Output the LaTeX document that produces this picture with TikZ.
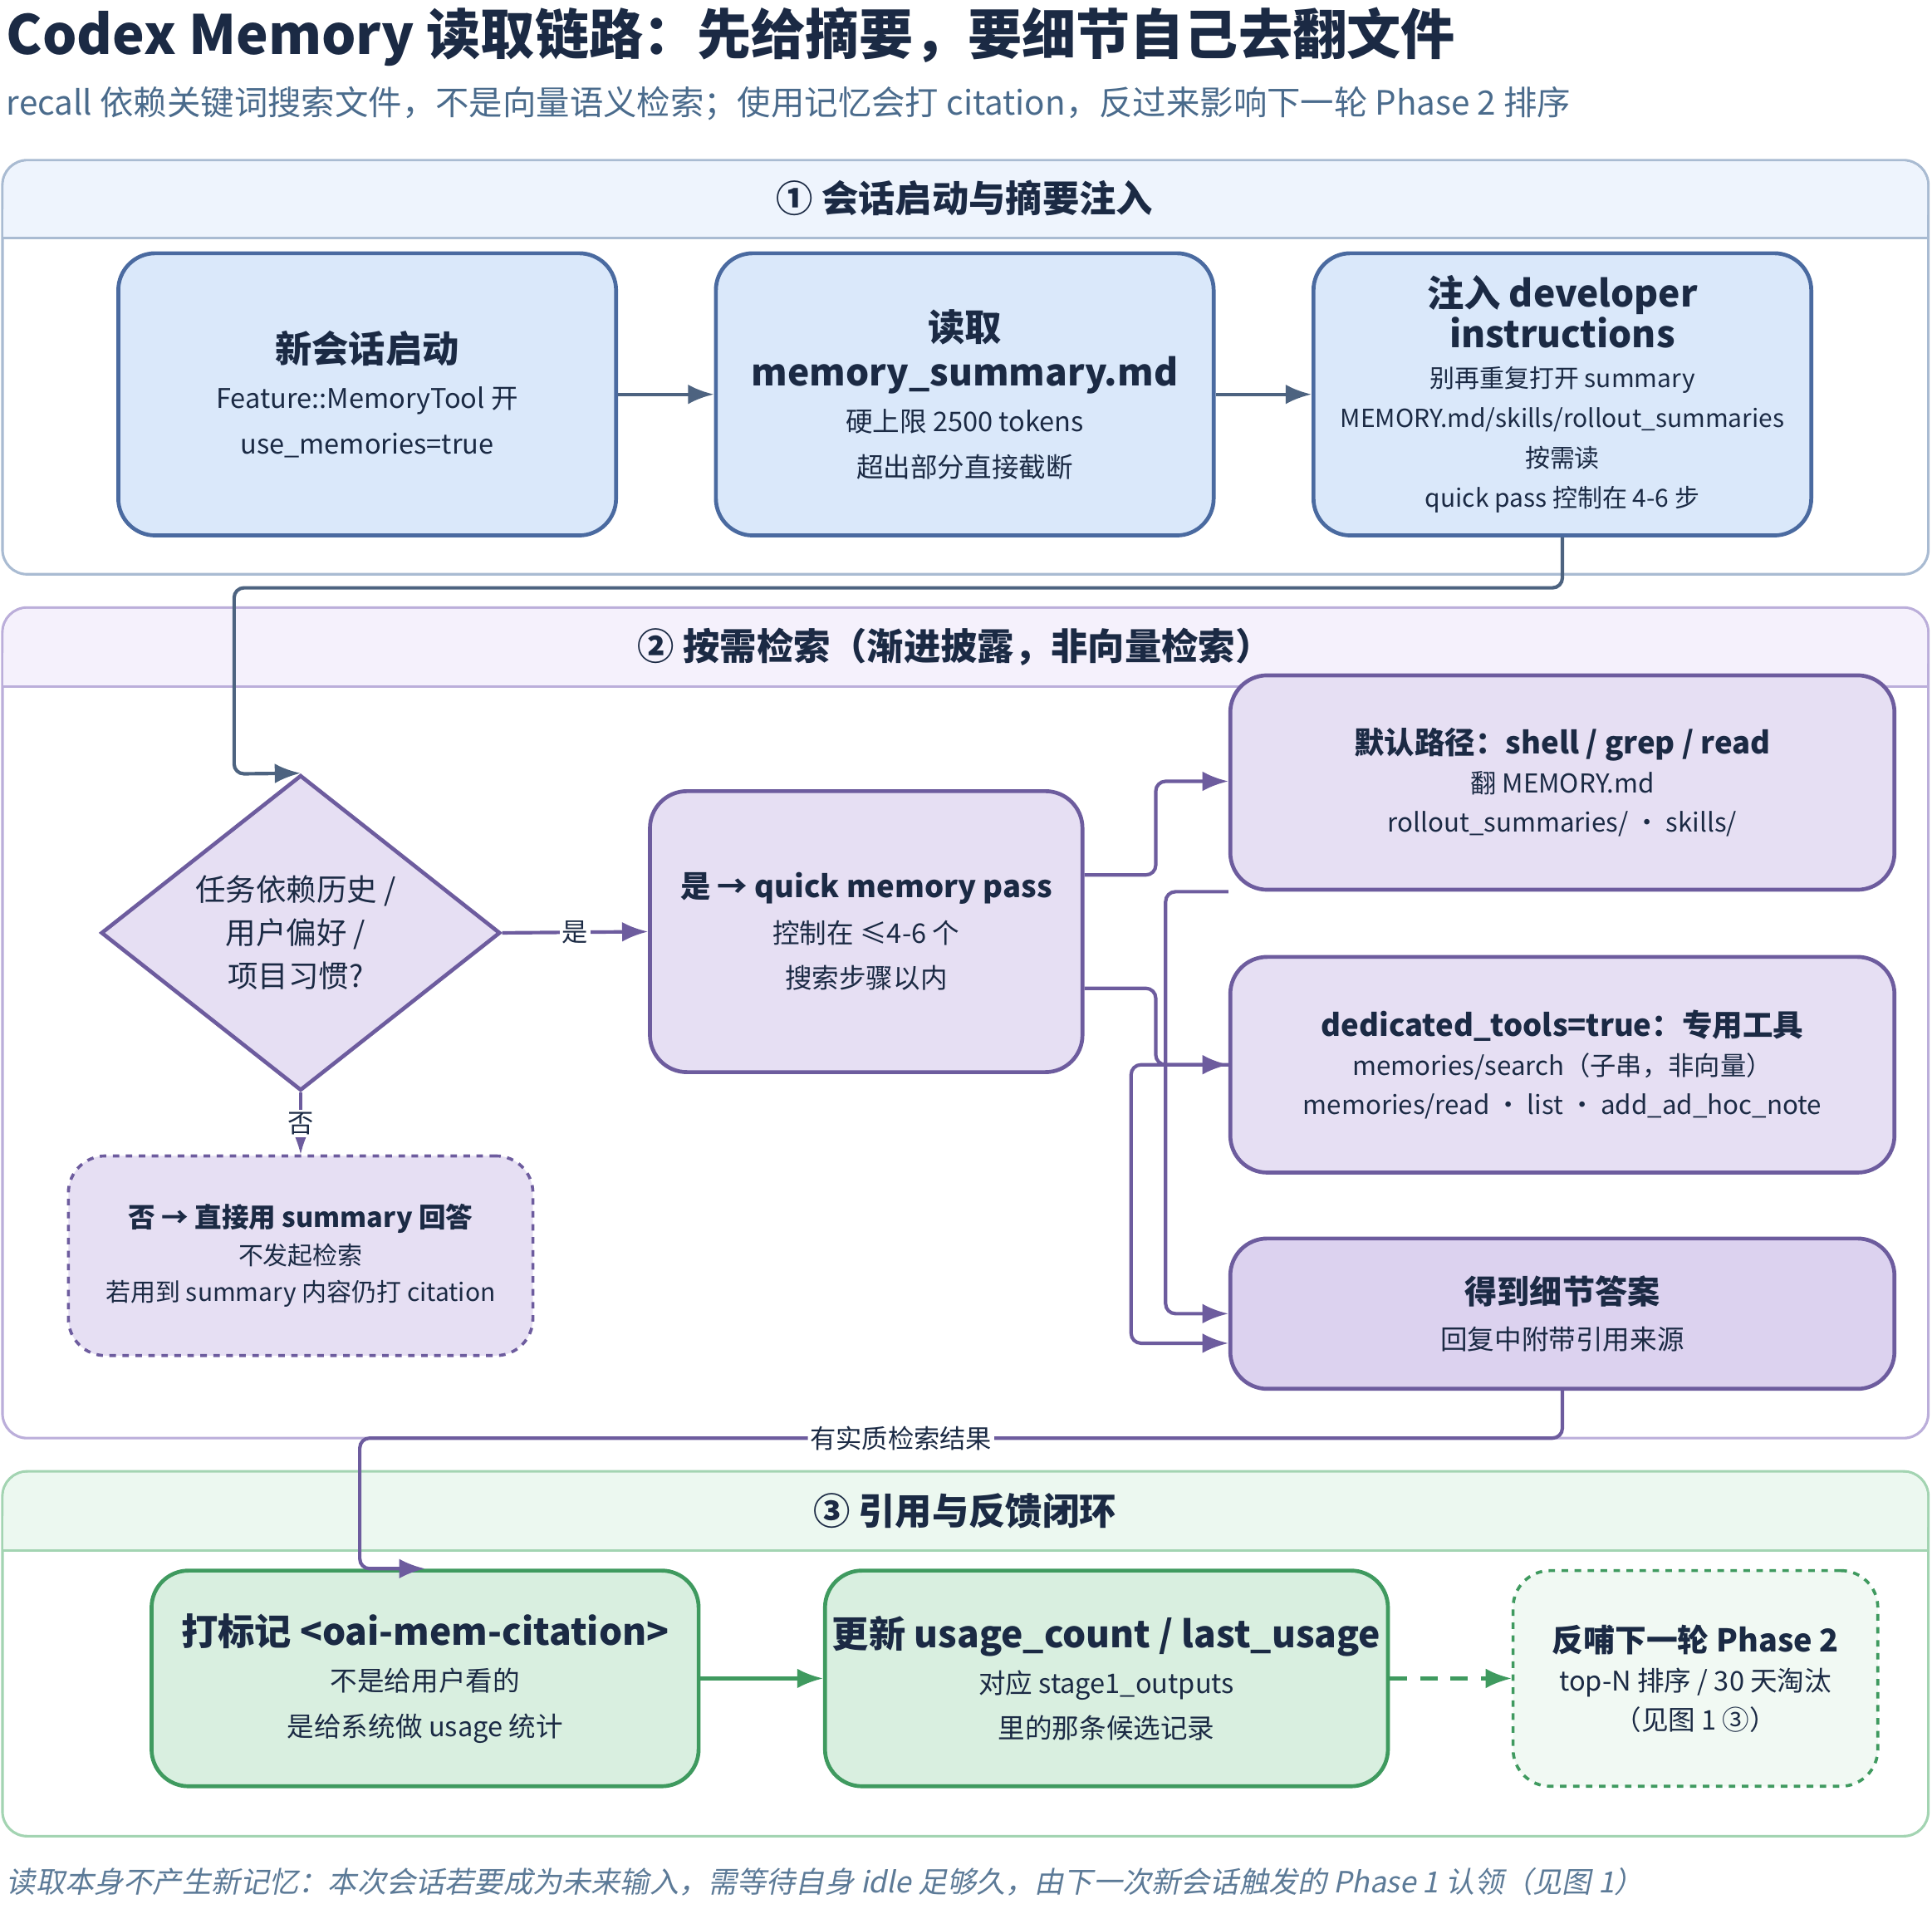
\documentclass[tikz,border=0pt]{standalone}
\usepackage{fontspec}
\setmainfont{Noto Sans CJK SC}[ItalicFont={Noto Sans CJK SC},ItalicFeatures={FakeSlant=0.2}]
\usetikzlibrary{shapes.geometric, arrows.meta, calc}
\definecolor{blueF}{HTML}{DAE8FA}
\definecolor{blueD}{HTML}{4A6AA0}
\definecolor{blueH}{HTML}{EEF4FD}
\definecolor{blueB}{HTML}{A9BBD2}
\definecolor{purF}{HTML}{E6DFF3}
\definecolor{purA}{HTML}{DCD2EF}
\definecolor{purD}{HTML}{6D5C9E}
\definecolor{purH}{HTML}{F5F1FC}
\definecolor{purB}{HTML}{BBAEDA}
\definecolor{grnF}{HTML}{D9EFE0}
\definecolor{grnL}{HTML}{F1F9F3}
\definecolor{grnD}{HTML}{3F9A5F}
\definecolor{grnH}{HTML}{ECF8F0}
\definecolor{grnB}{HTML}{A3D4B2}
\definecolor{navy}{HTML}{1B2A44}
\definecolor{slate}{HTML}{4D6380}
\definecolor{subg}{HTML}{4A6B8C}
\tikzstyle{box}=[rectangle, rounded corners=0.6cm, line width=1.8pt, align=center,
                 font=\fontsize{12.5}{21}\selectfont, text=navy]
\tikzstyle{bluebox}=[box, draw=blueD, fill=blueF, minimum width=404*0.02cm, minimum height=229*0.02cm]
\tikzstyle{purbox}=[box, draw=purD, fill=purF, text=navy]
\tikzstyle{grnbox}=[box, draw=grnD, fill=grnF, minimum height=175*0.02cm]
\tikzstyle{header}=[font=\fontsize{17}{20}\selectfont\bfseries, text=navy]
\tikzstyle{arr}=[line width=1.6pt, -{Latex[length=0.42cm,width=0.32cm]}, rounded corners=0.16cm]
\tikzstyle{lbl}=[fill=white, inner sep=1pt, font=\fontsize{12}{14}\selectfont, text=navy]
\newcommand{\ttl}[1]{{\fontsize{17}{22}\selectfont\bfseries #1}}

\begin{document}
\begin{tikzpicture}[x=0.02cm, y=-0.02cm]
  \useasboundingbox (0,0) rectangle (1568,1549);

  % title
  \node at (5,30) (title) [anchor=west, inner sep=0pt, font=\fontsize{25}{28}\selectfont\bfseries, text=navy]
    {Codex Memory 读取链路：先给摘要，要细节自己去翻文件};
  \node at (5,84) (subtitle) [anchor=west, inner sep=0pt, font=\fontsize{15.5}{18}\selectfont, text=subg]
    {recall 依赖关键词搜索文件，不是向量语义检索；使用记忆会打 citation，反过来影响下一轮 Phase 2 排序};

  % section 1
  \draw[rounded corners=0.4cm, fill=white, draw=blueB, line width=1.2pt] (2,130) rectangle (1565,466);
  \draw[rounded corners=0.4cm, fill=blueH, draw=none] (3,131) rectangle (1564,193);
  \fill[blueH] (3,170) rectangle (1564,193);
  \draw[draw=blueB, line width=1.2pt] (2,193) -- (1565,193);
  \node at (783,161) (h1) [header] {① 会话启动与摘要注入};

  \node at (298,320) (start) [bluebox] {\ttl{新会话启动}\\Feature::MemoryTool 开\\use\_memories=true};
  \node at (783,320) (read) [bluebox] {\ttl{读取}\\\ttl{memory\_summary.md}\\硬上限 2500 tokens\\超出部分直接截断};
  \node at (1268,320) (inject) [bluebox, font=\fontsize{11.5}{18.5}\selectfont]
    {\ttl{注入 developer}\\\ttl{instructions}\\别再重复打开 summary\\MEMORY.md/skills/rollout\_summaries\\按需读\\quick pass 控制在 4-6 步};

  \draw[arr, draw=slate] (start) -- (read);
  \draw[arr, draw=slate] (read) -- (inject);

  % section 2
  \draw[rounded corners=0.4cm, fill=white, draw=purB, line width=1.2pt] (2,493) rectangle (1565,1167);
  \draw[rounded corners=0.4cm, fill=purH, draw=none] (3,494) rectangle (1564,557);
  \fill[purH] (3,530) rectangle (1564,557);
  \draw[draw=purB, line width=1.2pt] (2,557) -- (1565,557);
  \node at (775,525) (h2) [header] {② 按需检索（渐进披露，非向量检索）};

  \node at (244,757) (ask) [diamond, draw=purD, fill=purF, line width=1.8pt, aspect=1.27,
    minimum width=324*0.02cm, minimum height=256*0.02cm, inner sep=0pt] {};
  \node at (240,757) (asktxt) [align=center, font=\fontsize{14}{20}\selectfont, text=navy]
    {任务依赖历史 /\\用户偏好 /\\项目习惯?};
  \node at (703,756) (quick) [purbox, minimum width=351*0.02cm, minimum height=228*0.02cm]
    {{\fontsize{14}{20}\selectfont\bfseries 是 → quick memory pass}\\控制在 ≤4-6 个\\搜索步骤以内};
  \node at (244,1019) (direct) [purbox, dashed, line width=1.4pt, minimum width=377*0.02cm, minimum height=162*0.02cm,
    font=\fontsize{11.5}{17}\selectfont]
    {{\fontsize{12.5}{17}\selectfont\bfseries 否 → 直接用 summary 回答}\\不发起检索\\若用到 summary 内容仍打 citation};
  \node at (1268,635) (shell) [purbox, minimum width=539*0.02cm, minimum height=174*0.02cm, font=\fontsize{12}{18}\selectfont]
    {{\fontsize{14}{20}\selectfont\bfseries 默认路径：shell / grep / read}\\翻 MEMORY.md\\rollout\_summaries/ · skills/};
  \node at (1268,864) (tools) [purbox, minimum width=539*0.02cm, minimum height=175*0.02cm, font=\fontsize{12}{18}\selectfont]
    {{\fontsize{14}{20}\selectfont\bfseries dedicated\_tools=true：专用工具}\\memories/search（子串，非向量）\\memories/read · list · add\_ad\_hoc\_note};
  \node at (1268,1066) (answer) [purbox, fill=purA, minimum width=539*0.02cm, minimum height=122*0.02cm]
    {{\fontsize{15}{20}\selectfont\bfseries 得到细节答案}\\回复中附带引用来源};

  \draw[arr, draw=slate] (inject.south) -- (1268,477) -| (190,628) -- (ask.north);
  \draw[arr, draw=purD, rounded corners=0pt] (ask.east) -- node[lbl] {是} (quick.west);
  \draw[arr, draw=purD, rounded corners=0pt] (ask.south) -- node[lbl] {否} (direct.north);
  \draw[arr, draw=purD] ($(quick.east)+(0,-46)$) -| (938,634) -- (shell.west |- 0,634);
  \draw[arr, draw=purD] ($(quick.east)+(0,46)$) -| (938,864) -- (tools.west);
  \draw[arr, draw=purD] (shell.south west) -| (946,1066) -- (answer.west);
  \draw[arr, draw=purD] (tools.west) -| (918,1090) -- (answer.west |- 0,1090);

  % section 3
  \draw[rounded corners=0.4cm, fill=white, draw=grnB, line width=1.2pt] (2,1194) rectangle (1565,1490);
  \draw[rounded corners=0.4cm, fill=grnH, draw=none] (3,1195) rectangle (1564,1258);
  \fill[grnH] (3,1230) rectangle (1564,1258);
  \draw[draw=grnB, line width=1.2pt] (2,1258) -- (1565,1258);
  \node at (783,1226) (h3) [header] {③ 引用与反馈闭环};

  \node at (345,1362) (cite) [grnbox, minimum width=444*0.02cm]
    {{\fontsize{17}{22}\selectfont\bfseries 打标记 <oai-mem-citation>}\\不是给用户看的\\是给系统做 usage 统计};
  \node at (898,1362) (usage) [grnbox, minimum width=444*0.02cm]
    {{\fontsize{17}{22}\selectfont\bfseries 更新 usage\_count / last\_usage}\\对应 stage1\_outputs\\里的那条候选记录};
  \node at (1376,1362) (phase) [grnbox, dashed, fill=grnL, line width=1.4pt, minimum width=296*0.02cm, font=\fontsize{12.5}{18}\selectfont]
    {{\fontsize{14.5}{20}\selectfont\bfseries 反哺下一轮 Phase 2}\\top-N 排序 / 30 天淘汰\\（见图 1 ③）};

  \draw[arr, draw=purD] (answer.south) -- (1268,1167) -- node[lbl, pos=0.55] {有实质检索结果} (292,1167) |- (cite.north);
  \draw[arr, draw=grnD] (cite) -- (usage);
  \draw[arr, draw=grnD, dashed, dash pattern=on 8pt off 6pt] (usage) -- (phase);

  % footnote
  \node at (5,1527) (note) [anchor=west, inner sep=0pt, font=\fontsize{13.5}{16}\selectfont\itshape, text=subg!90]
    {读取本身不产生新记忆：本次会话若要成为未来输入，需等待自身 idle 足够久，由下一次新会话触发的 Phase 1 认领（见图 1）};
\end{tikzpicture}
\end{document}
